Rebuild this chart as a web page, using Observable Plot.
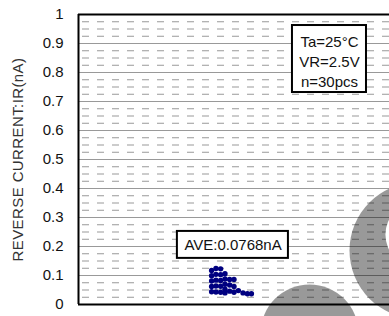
<!DOCTYPE html>
<html><head><meta charset="utf-8">
<script src="https://cdn.jsdelivr.net/npm/d3@7"></script>
<script src="https://cdn.jsdelivr.net/npm/@observablehq/plot@0.6"></script>
<style>
body{margin:0;background:#fff}
#chart svg{display:block}
</style>
</head><body><div id="chart"></div>
<script>
// ---- data ----
const yTicks = [0, 0.1, 0.2, 0.3, 0.4, 0.5, 0.6, 0.7, 0.8, 0.9, 1];
const yTickLabels = ["0", "0.1", "0.2", "0.3", "0.4", "0.5", "0.6", "0.7", "0.8", "0.9", "1"];
const axisTitle = "REVERSE CURRENT:IR(nA)";
const conditionLines = ["Ta=25°C", "VR=2.5V", "n=30pcs"];
const averageLabel = "AVE:0.0768nA";

// sample position (dot-plot offset) and reverse current value (nA), 30 pcs
const sampleX = [
  42.8, 42.8, 42.8, 42.8, 42.8,
  44.2, 44.2, 44.2, 44.2, 44.2,
  45.7, 45.7, 45.7, 45.7, 45.7,
  47.1, 47.1, 47.1, 47.1, 47.1,
  48.6, 48.6, 48.6,
  50.0, 50.0, 50.0,
  51.4, 52.9, 54.3, 55.6
];
const sampleIR = [
  0.117, 0.099, 0.081, 0.062, 0.044,
  0.124, 0.104, 0.084, 0.064, 0.043,
  0.123, 0.103, 0.083, 0.063, 0.042,
  0.106, 0.088, 0.070, 0.053, 0.040,
  0.086, 0.067, 0.046,
  0.086, 0.062, 0.042,
  0.048, 0.040, 0.037, 0.037
];

// background watermark shapes (x units, nA units, radius px)
const decoX = [109.0, 74.3];
const decoY = [0.186, -0.100];
const decoR = [68, 49];
const holeX = [109.3];
const holeY = [0.241];
const holeR = [33];

// ---- chart ----
const samples = sampleX.map((x, i) => ({x, y: sampleIR[i]}));
const deco = decoX.map((x, i) => ({x, y: decoY[i], r: decoR[i]}));
const hole = holeX.map((x, i) => ({x, y: holeY[i], r: holeR[i]}));
const minorTicks = d3.range(0, 1.0001, 0.025).filter((v, i) => i % 4 !== 0);

const plot = Plot.plot({
  width: 389,
  height: 316,
  marginLeft: 78,
  marginRight: 0,
  marginTop: 14,
  marginBottom: 12,
  style: {fontFamily: "'Liberation Sans', Arial, sans-serif", fontSize: "15px", background: "#fff", color: "#222"},
  x: {domain: [0, 100], axis: null},
  y: {domain: [0, 1], axis: null},
  r: {type: "identity"},
  marks: [
    Plot.ruleY(minorTicks, {stroke: "#999", strokeWidth: 1, strokeDasharray: "7,8", strokeDashoffset: 11}),
    Plot.ruleY(yTicks, {stroke: "#999", strokeWidth: 1}),
    Plot.axisY(yTicks, {tickSize: 0, tickPadding: 15, fontSize: 15, fill: "#111",
      tickFormat: d => yTickLabels[yTicks.indexOf(d)], label: null}),
    Plot.text([axisTitle], {frameAnchor: "left", dx: -60, rotate: -90, textAnchor: "middle",
      lineAnchor: "middle", fontSize: 15, fill: "#333"}),
    Plot.dot(samples, {x: "x", y: "y", r: 2.7, fill: "#000080", stroke: "none"}),
    Plot.rect([0], {x1: 68.8, x2: 92.6, y1: 0.731, y2: 0.962, fill: "#fff", stroke: "#000", strokeWidth: 2}),
    Plot.text([conditionLines.join("\n")], {x: 80.7, y: 0.841, lineHeight: 1.33, fontSize: 15, fill: "#111"}),
    Plot.rect([0], {x1: 31.8, x2: 67.5, y1: 0.159, y2: 0.252, fill: "#fff", stroke: "#000", strokeWidth: 2}),
    Plot.text([averageLabel], {x: 49.7, y: 0.205, fontSize: 15, fill: "#111"}),
    Plot.dot(deco, {x: "x", y: "y", r: "r", fill: "#000", fillOpacity: 0.4, stroke: "none", clip: false}),
    Plot.dot(hole, {x: "x", y: "y", r: "r", fill: "#fff", stroke: "none"}),
    Plot.ruleX([0], {stroke: "#000", strokeWidth: 2}),
    Plot.ruleY([0, 1], {stroke: "#000", strokeWidth: 2})
  ]
});
document.getElementById("chart").appendChild(plot);
d3.select(plot).selectAll("text").filter(function() { return this.textContent === axisTitle; })
  .style("letter-spacing", "0.4px");
</script>
</body></html>
